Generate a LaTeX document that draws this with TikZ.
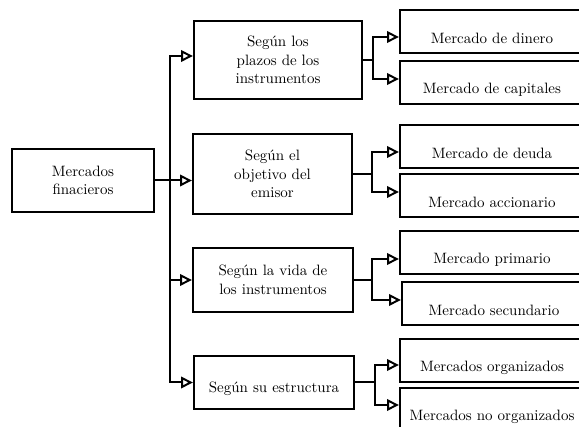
\documentclass[tikz,border=0pt]{standalone}
\usepackage{fontspec}
\usepackage{tikz}
\usetikzlibrary{arrows.meta}
\newfontfamily\lmten{lmroman10-regular}[Extension=.otf]

\begin{document}
\begin{tikzpicture}[x=1pt,y=-1pt,>={Triangle[open,length=12pt,width=11.5pt]},
                    line width=2pt,font=\lmten\fontsize{15}{18.6}\selectfont]
  \tikzstyle{box}=[draw=black,rectangle,align=center,inner sep=0pt,
                   execute at begin node={\rule{0pt}{24pt}}]
  \tikzstyle{leaf}=[box,minimum width=184pt,minimum height=43pt]

  \useasboundingbox (0,0) rectangle (579,427);
  \clip (0,0) rectangle (579,427);

  \node[box,minimum width=142pt,minimum height=63pt] (R) at (83,180.5) {Mercados\\finacieros};

  \node[box,minimum width=168pt,minimum height=78pt] (M1) at (278,60)    {Según los\\plazos de los\\instrumentos};
  \node[box,minimum width=159pt,minimum height=80pt] (M2) at (272.5,174) {Según el\\objetivo del\\emisor};
  \node[box,minimum width=160pt,minimum height=64pt] (M3) at (273,280)   {Según la vida de\\los instrumentos};
  \node[box,minimum width=160pt,minimum height=53pt] (M4) at (274,382.5) {Según su estructura};

  \node[leaf] (L1) at (492,31.5)  {Mercado de dinero};
  \node[leaf] (L2) at (492,82.5)  {Mercado de capitales};
  \node[leaf] (L3) at (492,146.5) {Mercado de deuda};
  \node[leaf] (L4) at (492,196)   {Mercado accionario};
  \node[leaf] (L5) at (492,253)   {Mercado primario};
  \node[leaf] (L6) at (494,304)   {Mercado secundario};
  \node[leaf] (L7) at (492,361)   {Mercados organizados};
  \node[leaf] (L8) at (492,410)   {Mercados no organizados};

  % tronco
  \coordinate (T) at (170,56);
  \draw[<->] (M1.west |- T) -- (T) |- (M4.west);
  \draw[->] (T |- M3.west) -- (M3.west);
  \draw[->] (R.east) -- (M2.west |- R.east);

  % ramas
  \coordinate (A1) at (373,37);  \coordinate (B1) at (373,79);
  \coordinate (A2) at (372,152); \coordinate (B2) at (372,192);
  \coordinate (A3) at (372,259); \coordinate (B3) at (372,300);
  \coordinate (A4) at (375,365); \coordinate (B4) at (375,405);

  \draw (M1.east) -- (M1.east -| A1);
  \draw (M2.east) -- (M2.east -| A2);
  \draw (M3.east) -- (M3.east -| A3);
  \draw (M4.east) -- (M4.east -| A4);

  \draw[<->] (L1.west |- A1) -- (A1) -- (B1) -- (L2.west |- B1);
  \draw[<->] (L3.west |- A2) -- (A2) -- (B2) -- (L4.west |- B2);
  \draw[<->] (L5.west |- A3) -- (A3) -- (B3) -- (L6.west |- B3);
  \draw[<->] (L7.west |- A4) -- (A4) -- (B4) -- (L8.west |- B4);
\end{tikzpicture}
\end{document}
